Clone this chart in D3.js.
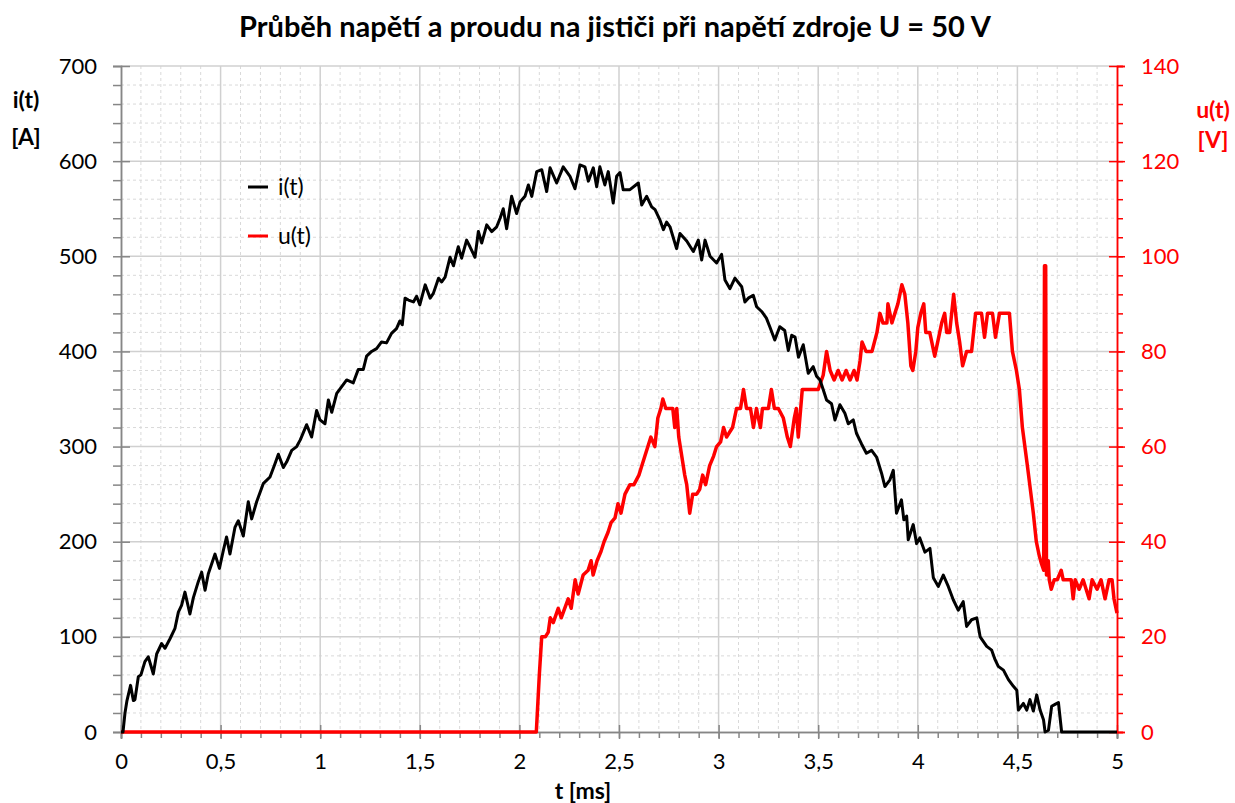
<!DOCTYPE html>
<html>
<head>
<meta charset="utf-8">
<script src="https://cdn.jsdelivr.net/npm/d3@7"></script>
<style>
  body { margin: 0; background: #fff; }
  text { font-family: Lato, "Open Sans", sans-serif; }
</style>
</head>
<body>
<div id="chart"></div>
<script>

var svgWidth = 1235, svgHeight = 803;

// current i(t): time [ms] and current [A]
var iTime = [0, 0.01, 0.02, 0.03, 0.048, 0.062, 0.07, 0.087, 0.1, 0.12, 0.137, 0.154, 0.162, 0.179, 0.204, 0.221, 0.246, 0.271, 0.288, 0.304,
  0.321, 0.346, 0.363, 0.388, 0.405, 0.422, 0.438, 0.472, 0.494, 0.514, 0.53, 0.547, 0.572, 0.589, 0.614, 0.639, 0.656, 0.681, 0.714, 0.748,
  0.773, 0.79, 0.815, 0.832, 0.857, 0.882, 0.9, 0.932, 0.957, 0.982, 0.999, 1.024, 1.041, 1.058, 1.083, 1.108, 1.133, 1.166, 1.191, 1.216,
  1.233, 1.258, 1.283, 1.308, 1.333, 1.358, 1.383, 1.4, 1.412, 1.426, 1.443, 1.468, 1.484, 1.5, 1.527, 1.552, 1.568, 1.594, 1.61, 1.627,
  1.652, 1.669, 1.693, 1.71, 1.735, 1.752, 1.777, 1.794, 1.811, 1.836, 1.861, 1.886, 1.903, 1.919, 1.936, 1.961, 1.986, 2.003, 2.028, 2.045,
  2.062, 2.087, 2.112, 2.137, 2.154, 2.187, 2.22, 2.254, 2.279, 2.304, 2.329, 2.346, 2.371, 2.388, 2.404, 2.429, 2.446, 2.471, 2.488, 2.505,
  2.521, 2.555, 2.597, 2.614, 2.639, 2.664, 2.681, 2.706, 2.723, 2.739, 2.756, 2.789, 2.806, 2.84, 2.873, 2.898, 2.915, 2.932, 2.957, 2.99,
  3.015, 3.032, 3.057, 3.082, 3.116, 3.132, 3.149, 3.174, 3.191, 3.216, 3.24, 3.257, 3.282, 3.307, 3.332, 3.35, 3.367, 3.384, 3.401, 3.425,
  3.45, 3.475, 3.492, 3.509, 3.525, 3.542, 3.567, 3.584, 3.609, 3.634, 3.651, 3.676, 3.692, 3.717, 3.742, 3.768, 3.793, 3.818, 3.835, 3.86,
  3.877, 3.893, 3.918, 3.93, 3.944, 3.952, 3.977, 3.994, 4.01, 4.036, 4.061, 4.078, 4.103, 4.128, 4.153, 4.178, 4.203, 4.228, 4.245, 4.27,
  4.296, 4.313, 4.346, 4.371, 4.388, 4.404, 4.43, 4.455, 4.48, 4.497, 4.505, 4.53, 4.547, 4.563, 4.58, 4.597, 4.614, 4.631, 4.639, 4.656,
  4.672, 4.689, 4.706, 4.722, 5.0];
var iAmp = [0, 0, 20, 33, 49, 33, 34, 58, 60, 74, 79, 67, 61, 82, 93, 88, 98, 109, 126, 133,
  147, 124, 141, 158, 168, 149, 166, 187, 172, 191, 205, 187, 215, 222, 206, 242, 224, 242, 261, 268,
  282, 292, 278, 284, 296, 300, 307, 323, 310, 338, 328, 324, 349, 336, 356, 363, 370, 367, 381, 381,
  395, 400, 403, 410, 409, 419, 424, 432, 428, 456, 454, 452, 458, 449, 470, 456, 461, 477, 473, 478,
  499, 490, 510, 498, 517, 510, 499, 526, 514, 533, 526, 531, 540, 550, 529, 563, 545, 557, 563, 575,
  563, 589, 591, 568, 593, 577, 594, 584, 571, 596, 594, 579, 593, 573, 594, 575, 589, 556, 584, 588,
  570, 570, 577, 554, 563, 552, 549, 538, 528, 536, 531, 508, 524, 516, 505, 517, 496, 517, 500, 493,
  502, 475, 466, 477, 468, 452, 456, 459, 447, 442, 435, 426, 412, 426, 422, 401, 417, 415, 394, 407,
  377, 384, 374, 370, 360, 349, 345, 328, 344, 335, 324, 328, 314, 303, 293, 296, 289, 272, 258, 265,
  275, 230, 244, 223, 227, 202, 218, 198, 204, 189, 193, 162, 153, 165, 153, 139, 128, 137, 111, 118,
  120, 100, 90, 86, 76, 69, 65, 55, 48, 44, 23, 30, 23, 34, 22, 39, 23, 13, 0, 2,
  27, 29, 31, 0, 0];

// voltage u(t): time [ms] and voltage [V]
var uTime = [0, 2.085, 2.1, 2.112, 2.13, 2.145, 2.155, 2.17, 2.195, 2.21, 2.245, 2.26, 2.28, 2.295, 2.32, 2.345, 2.36, 2.37, 2.39, 2.41,
  2.425, 2.445, 2.46, 2.48, 2.495, 2.51, 2.53, 2.555, 2.575, 2.6, 2.615, 2.63, 2.645, 2.66, 2.68, 2.695, 2.71, 2.72, 2.735, 2.75,
  2.77, 2.78, 2.79, 2.8, 2.815, 2.83, 2.84, 2.855, 2.87, 2.89, 2.905, 2.92, 2.935, 2.955, 2.975, 2.99, 3.01, 3.025, 3.04, 3.055,
  3.07, 3.09, 3.11, 3.125, 3.14, 3.16, 3.175, 3.19, 3.21, 3.22, 3.25, 3.265, 3.28, 3.3, 3.325, 3.345, 3.36, 3.38, 3.39, 3.4,
  3.42, 3.44, 3.5, 3.525, 3.542, 3.56, 3.58, 3.6, 3.62, 3.64, 3.66, 3.68, 3.695, 3.71, 3.72, 3.74, 3.77, 3.795, 3.81, 3.825,
  3.845, 3.85, 3.87, 3.885, 3.9, 3.92, 3.935, 3.95, 3.965, 3.975, 3.99, 4.0, 4.015, 4.03, 4.04, 4.06, 4.085, 4.1, 4.12, 4.135,
  4.145, 4.16, 4.18, 4.195, 4.21, 4.225, 4.245, 4.27, 4.29, 4.32, 4.335, 4.35, 4.375, 4.39, 4.41, 4.46, 4.475, 4.485, 4.495, 4.51,
  4.525, 4.55, 4.565, 4.58, 4.595, 4.61, 4.62, 4.632, 4.636, 4.642, 4.646, 4.655, 4.66, 4.67, 4.685, 4.7, 4.72, 4.73, 4.77, 4.78,
  4.79, 4.81, 4.83, 4.86, 4.875, 4.9, 4.92, 4.94, 4.96, 4.975, 4.985, 4.995, 5.0];
var uVolt = [0, 0, 12, 20, 20, 21, 24, 23, 26, 24, 28, 26, 32, 29, 33, 34, 36, 33, 36, 38,
  40, 42, 44, 45, 48, 46, 50, 52, 52, 54, 56, 58, 60, 62, 60, 66, 68, 70, 68, 68,
  68, 64, 68, 62, 58, 54, 52, 46, 50, 50, 51, 54, 52, 56, 58, 60, 61, 64, 62, 63,
  64, 68, 68, 72, 68, 68, 64, 68, 64, 68, 68, 72, 68, 68, 66, 62, 60, 66, 68, 62,
  72, 72, 72, 75, 80, 76, 74, 76, 74, 76, 74, 76, 74, 78, 82, 80, 80, 84, 88, 86,
  86, 90, 86, 88, 90, 94, 92, 86, 77, 76, 80, 85, 88, 90, 84, 84, 79, 82, 86, 88,
  84, 84, 92, 86, 82, 77, 80, 80, 88, 88, 83, 88, 88, 83, 88, 88, 80, 78, 76, 72,
  64, 56, 51, 46, 40, 37, 35.5, 34, 98, 98, 33, 36, 32, 30, 32, 32, 34, 32, 32, 28,
  32, 30, 32, 28, 32, 30, 32, 28, 32, 32, 28, 26, 25];

var xTicks = [0, 0.5, 1, 1.5, 2, 2.5, 3, 3.5, 4, 4.5, 5];
var iTicks = [0, 100, 200, 300, 400, 500, 600, 700];
var uTicks = [0, 20, 40, 60, 80, 100, 120, 140];

var titleText = "Průběh napětí a proudu na jističi při napětí zdroje U = 50 V";

var margin = {left: 121, right: 118, top: 66, bottom: 71};
var plotW = svgWidth - margin.left - margin.right;
var plotH = svgHeight - margin.top - margin.bottom;

var svg = d3.select("#chart").append("svg")
  .attr("width", svgWidth)
  .attr("height", svgHeight);

var x = d3.scaleLinear().domain([0, 5]).range([0, plotW]);
var yI = d3.scaleLinear().domain([0, 700]).range([plotH, 0]);
var yU = d3.scaleLinear().domain([0, 140]).range([plotH, 0]);

var g = svg.append("g").attr("transform", "translate(" + margin.left + "," + margin.top + ")");

// minor grid (dashed)
var grid = g.append("g");
grid.selectAll(".vminor").data(d3.range(1, 50).filter(d => d % 5 != 0).map(d => d / 10))
  .enter().append("line")
  .attr("x1", d => x(d)).attr("x2", d => x(d))
  .attr("y1", 0).attr("y2", plotH)
  .attr("stroke", "#d9d9d9").attr("stroke-width", 1).attr("stroke-dasharray", "3,3");
grid.selectAll(".hminor").data(d3.range(1, 35).filter(d => d % 5 != 0).map(d => d * 20))
  .enter().append("line")
  .attr("x1", 0).attr("x2", plotW)
  .attr("y1", d => yI(d)).attr("y2", d => yI(d))
  .attr("stroke", "#d9d9d9").attr("stroke-width", 1).attr("stroke-dasharray", "3,3");
// major grid
grid.selectAll(".vmajor").data(xTicks.slice(1, -1))
  .enter().append("line")
  .attr("x1", d => x(d)).attr("x2", d => x(d))
  .attr("y1", 0).attr("y2", plotH)
  .attr("stroke", "#d0d0d0").attr("stroke-width", 1.5);
grid.selectAll(".hmajor").data(iTicks.slice(1))
  .enter().append("line")
  .attr("x1", 0).attr("x2", plotW)
  .attr("y1", d => yI(d)).attr("y2", d => yI(d))
  .attr("stroke", "#d0d0d0").attr("stroke-width", 1.5);

// axes
var xAxis = g.append("g").attr("transform", "translate(0," + plotH + ")")
  .call(d3.axisBottom(x).tickValues(d3.range(0, 51).map(d => d / 10)).tickSize(6).tickFormat(""));
var xMajor = g.append("g").attr("transform", "translate(0," + plotH + ")")
  .call(d3.axisBottom(x).tickValues(xTicks).tickSize(7).tickPadding(20)
    .tickFormat(d => String(d).replace(".", ",")));
xMajor.selectAll(".tick line").attr("y1", -7);

var iMinor = g.append("g")
  .call(d3.axisLeft(yI).tickValues(d3.range(0, 36).map(d => d * 20)).tickSize(8).tickFormat(""));
var iMajor = g.append("g")
  .call(d3.axisLeft(yI).tickValues(iTicks).tickSize(8).tickPadding(16));
iMajor.selectAll(".tick line").attr("x2", 9);

var uMinor = g.append("g").attr("transform", "translate(" + plotW + ",0)")
  .call(d3.axisRight(yU).tickValues(d3.range(0, 36).map(d => d * 4)).tickSize(6).tickFormat(""));
var uMajor = g.append("g").attr("transform", "translate(" + plotW + ",0)")
  .call(d3.axisRight(yU).tickValues(uTicks).tickSize(8).tickPadding(16));
uMajor.selectAll(".tick line").attr("x1", -8);

[xAxis, xMajor, iMinor, iMajor].forEach(function(a) {
  a.select(".domain").attr("stroke", "#868686").attr("stroke-width", 1.5);
  a.selectAll(".tick line").attr("stroke", "#868686").attr("stroke-width", 1.5);
  a.selectAll("text").attr("font-size", 22).attr("fill", "#000").attr("font-family", "Lato");
});
[uMinor, uMajor].forEach(function(a) {
  a.select(".domain").attr("stroke", "#ff0000").attr("stroke-width", 1.5);
  a.selectAll(".tick line").attr("stroke", "#ff0000").attr("stroke-width", 1.5);
  a.selectAll("text").attr("font-size", 22).attr("fill", "#ff0000").attr("font-family", "Lato");
});
xMajor.selectAll("text").attr("dy", "0.45em");

// data lines
var iLine = d3.line().x(d => x(d[0])).y(d => yI(d[1]));
var uLine = d3.line().x(d => x(d[0])).y(d => yU(d[1]));

g.append("path")
  .datum(uTime.map((t, k) => [t, uVolt[k]]))
  .attr("d", uLine)
  .attr("fill", "none").attr("stroke", "#ff0000").attr("stroke-width", 3.5)
  .attr("stroke-linejoin", "round");

g.append("path")
  .datum(iTime.map((t, k) => [t, iAmp[k]]))
  .attr("d", iLine)
  .attr("fill", "none").attr("stroke", "#000").attr("stroke-width", 3)
  .attr("stroke-linejoin", "round");

// legend
var legend = svg.append("g");
var legendItems = [["i(t)", "#000"], ["u(t)", "#ff0000"]];
legend.selectAll("line").data(legendItems).enter().append("line")
  .attr("x1", 248).attr("x2", 268)
  .attr("y1", (d, k) => 187 + k * 49).attr("y2", (d, k) => 187 + k * 49)
  .attr("stroke", d => d[1]).attr("stroke-width", 3);
legend.selectAll("text").data(legendItems).enter().append("text")
  .attr("x", 278).attr("y", (d, k) => 195 + k * 49)
  .attr("font-size", 23).text(d => d[0]);

// titles
svg.append("text").attr("x", 615).attr("y", 37).attr("text-anchor", "middle")
  .attr("font-size", 29).attr("font-weight", "bold").text(titleText);
svg.append("text").attr("x", 583).attr("y", 799).attr("text-anchor", "middle")
  .attr("font-size", 23).attr("font-weight", "bold").text("t [ms]");

svg.append("text").attr("x", 26).attr("y", 108).attr("text-anchor", "middle")
  .attr("font-size", 23).attr("font-weight", "bold").text("i(t)");
svg.append("text").attr("x", 26).attr("y", 145).attr("text-anchor", "middle")
  .attr("font-size", 23).attr("font-weight", "bold").text("[A]");
svg.append("text").attr("x", 1213).attr("y", 118).attr("text-anchor", "middle")
  .attr("font-size", 23).attr("font-weight", "bold").attr("fill", "#ff0000").text("u(t)");
svg.append("text").attr("x", 1213).attr("y", 148).attr("text-anchor", "middle")
  .attr("font-size", 23).attr("font-weight", "bold").attr("fill", "#ff0000").text("[V]");

</script>
</body>
</html>
